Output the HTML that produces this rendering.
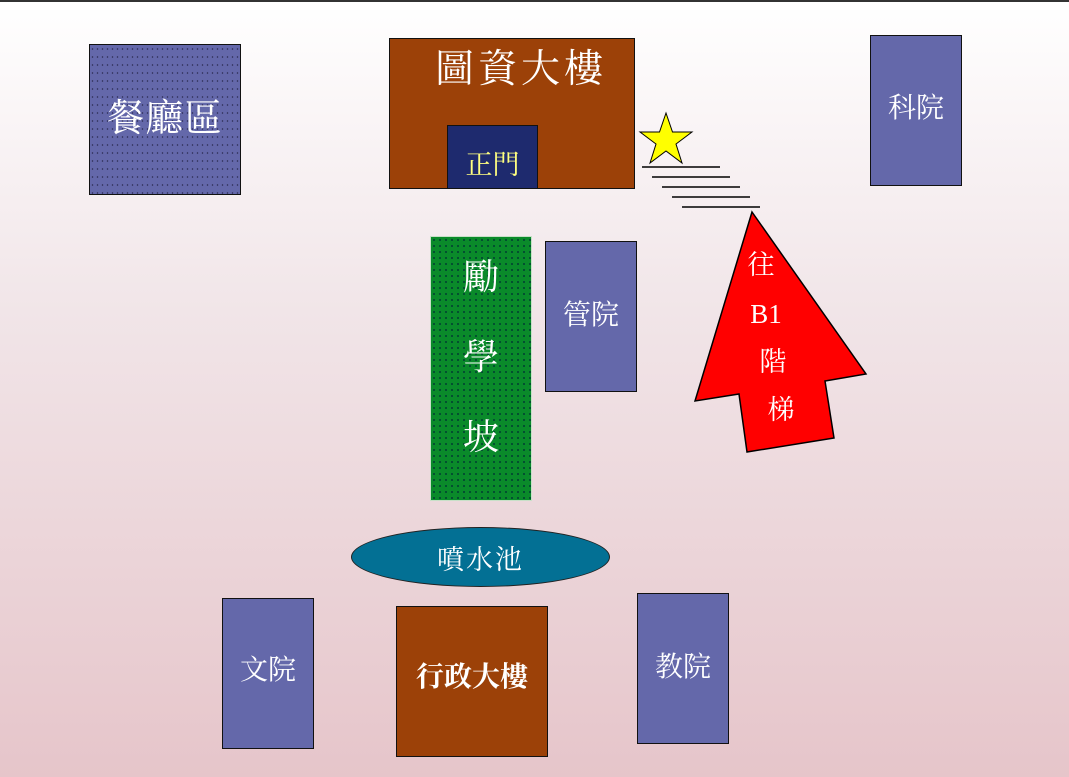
<!DOCTYPE html>
<html><head><meta charset="utf-8"><style>
body{margin:0;width:1069px;height:777px;overflow:hidden;position:relative;
background:linear-gradient(to bottom,#ffffff 0%,#f1e5e8 40%,#e6c5ca 100%);
font-family:"Liberation Serif","Noto Serif CJK TC","Noto Serif CJK SC",serif;}
.b{position:absolute;box-sizing:border-box;border:1px solid #111;display:flex;align-items:center;justify-content:center;color:#fff;}
.blue{background:#6468aa;}
</style></head><body>
<div style="position:absolute;left:0;top:0;width:1069px;height:2px;background:#333"></div>
<div class="b blue" style="left:89px;top:44px;width:152px;height:151px;font-size:38px;letter-spacing:1px;padding-bottom:10px;background-color:#6468aa;background-image:radial-gradient(circle,#2a2a50 0.6px,transparent 0.9px);background-size:5px 8px;">餐廳區</div>
<div class="b" style="left:389px;top:38px;width:246px;height:151px;background:#9c4108;"></div>
<div style="position:absolute;left:389px;top:38px;width:264px;text-align:center;color:#fff;font-size:39px;letter-spacing:4px;">圖資大樓</div>
<div class="b" style="left:447px;top:125px;width:91px;height:64px;background:#1e2a6e;color:#ffff80;font-size:27px;padding-top:10px;">正門</div>
<div class="b blue" style="left:870px;top:35px;width:92px;height:151px;font-size:28px;padding-bottom:10px;">科院</div>
<div class="b" style="left:430px;top:236px;width:102px;height:265px;background-color:#0a8a2a;background-image:radial-gradient(circle,#033 0.7px,transparent 1.1px);background-size:6px 6px;border-color:#c8e0c8;flex-direction:column;justify-content:flex-start;font-size:36px;line-height:80px;padding-top:0px;">勵<br>學<br>坡</div>
<div class="b blue" style="left:545px;top:241px;width:92px;height:151px;font-size:28px;padding-bottom:8px;">管院</div>
<div class="b" style="left:351px;top:527px;width:259px;height:60px;border-radius:50%;background:#037094;font-size:27px;letter-spacing:2px;border-color:#222;">噴水池</div>
<div class="b blue" style="left:222px;top:598px;width:92px;height:151px;font-size:28px;padding-bottom:12px;">文院</div>
<div class="b" style="left:396px;top:606px;width:152px;height:151px;background:#9c4108;font-size:28px;font-weight:bold;padding-bottom:14px;">行政大樓</div>
<div class="b blue" style="left:637px;top:593px;width:92px;height:151px;font-size:28px;padding-bottom:8px;">教院</div>
<svg style="position:absolute;left:0;top:0" width="1069" height="777">
<polygon points="666,113 672.5,132 692,132 676,144 682,163 666,151 650,163 656,144 640,132 659.5,132" fill="#ffff00" stroke="#000" stroke-width="1"/>
<g stroke="#000" stroke-width="1.5">
<line x1="642" y1="167" x2="720" y2="167"/>
<line x1="652" y1="177" x2="730" y2="177"/>
<line x1="662" y1="187" x2="740" y2="187"/>
<line x1="672" y1="197" x2="750" y2="197"/>
<line x1="682" y1="207" x2="760" y2="207"/>
</g>
<polygon points="752,212 866,374 825,381 834,438 747,452 739,394 695,401" fill="#ff0000" stroke="#000" stroke-width="1.5"/>
<g fill="#fff" font-size="27" font-family="Liberation Serif,'Noto Serif CJK TC',serif" text-anchor="middle">
<text x="761" y="274">往</text>
<text x="766" y="323">B1</text>
<text x="773" y="371">階</text>
<text x="781" y="419">梯</text>
</g>
</svg>
</body></html>
